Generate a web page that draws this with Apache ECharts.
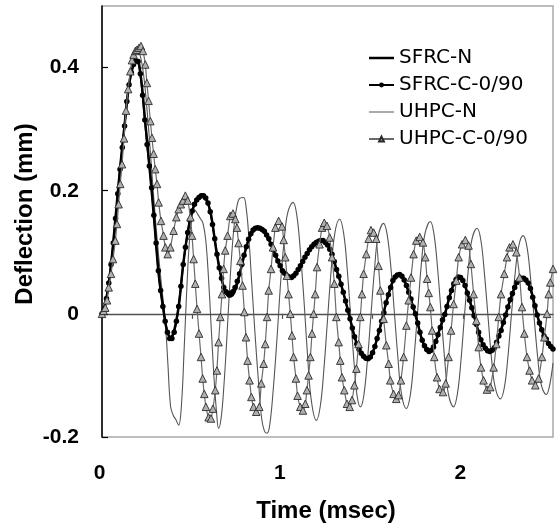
<!DOCTYPE html>
<html><head><meta charset="utf-8">
<script src="https://cdn.jsdelivr.net/npm/echarts@6/dist/echarts.min.js"></script>
<style>html,body{margin:0;padding:0;background:#fff}#c{width:558px;height:527px}</style>
</head><body><div id="c"></div>
<script>
const seriesNames = ['SFRC-N', 'SFRC-C-0/90', 'UHPC-N', 'UHPC-C-0/90'];
const xLabelValues = [0, 1, 2];
const xTickValues = [0.5, 1, 1.5, 2];
const yLabelValues = [-0.2, 0, 0.2, 0.4];
const xTitle = 'Time (msec)';
const yTitle = 'Deflection (mm)';

// [time (msec), deflection (mm)]
const sfrcN = [[0,0],[0.025,0.026],[0.05,0.08],[0.075,0.156],[0.1,0.236],[0.125,0.306],[0.15,0.372],[0.175,0.405],[0.195,0.411],[0.215,0.386],[0.24,0.31],[0.265,0.233],[0.29,0.15],[0.315,0.062],[0.34,0.008],[0.36,-0.027],[0.38,-0.037],[0.4,-0.027],[0.425,0.012],[0.45,0.08],[0.475,0.132],[0.5,0.167],[0.525,0.185],[0.555,0.191],[0.58,0.185],[0.605,0.16],[0.63,0.11],[0.655,0.068],[0.68,0.039],[0.705,0.028],[0.73,0.033],[0.755,0.055],[0.78,0.085],[0.81,0.118],[0.84,0.136],[0.865,0.139],[0.895,0.134],[0.925,0.12],[0.955,0.1],[0.985,0.079],[1.015,0.065],[1.045,0.059],[1.075,0.066],[1.1,0.078],[1.125,0.092],[1.15,0.104],[1.175,0.113],[1.2,0.118],[1.225,0.119],[1.25,0.112],[1.275,0.097],[1.3,0.072],[1.325,0.048],[1.35,0.021],[1.375,-0.008],[1.4,-0.037],[1.425,-0.058],[1.45,-0.069],[1.475,-0.073],[1.5,-0.063],[1.525,-0.04],[1.55,-0.012],[1.575,0.018],[1.6,0.043],[1.625,0.06],[1.65,0.064],[1.675,0.055],[1.7,0.035],[1.725,0.011],[1.75,-0.015],[1.775,-0.043],[1.8,-0.058],[1.8125,-0.061],[1.825,-0.059],[1.85,-0.045],[1.875,-0.022],[1.9,-0.001],[1.925,0.026],[1.95,0.049],[1.975,0.06],[2.0,0.054],[2.025,0.034],[2.05,0.01],[2.075,-0.017],[2.1,-0.042],[2.125,-0.056],[2.15,-0.061],[2.175,-0.055],[2.2,-0.036],[2.225,-0.014],[2.25,0.011],[2.275,0.033],[2.3,0.051],[2.33,0.058],[2.35,0.055],[2.375,0.041],[2.4,0.013],[2.425,-0.015],[2.45,-0.036],[2.475,-0.048],[2.5,-0.057]];

const sfrcC = [[0,0],[0.0125,0.008],[0.025,0.025],[0.0375,0.05],[0.05,0.08],[0.0625,0.115],[0.075,0.155],[0.0875,0.195],[0.1,0.235],[0.1125,0.27],[0.125,0.305],[0.1375,0.345],[0.15,0.372],[0.1625,0.392],[0.175,0.405],[0.1875,0.411],[0.2,0.41],[0.2125,0.39],[0.225,0.355],[0.2375,0.315],[0.25,0.275],[0.2625,0.24],[0.275,0.205],[0.2875,0.16],[0.3,0.115],[0.3125,0.07],[0.325,0.038],[0.3375,0.012],[0.35,-0.012],[0.3625,-0.03],[0.375,-0.04],[0.3875,-0.04],[0.4,-0.03],[0.4125,-0.012],[0.425,0.012],[0.4375,0.045],[0.45,0.08],[0.4625,0.108],[0.475,0.132],[0.4875,0.152],[0.5,0.167],[0.5125,0.178],[0.525,0.185],[0.5375,0.189],[0.55,0.192],[0.5625,0.192],[0.575,0.188],[0.5875,0.18],[0.6,0.166],[0.6125,0.145],[0.625,0.122],[0.6375,0.097],[0.65,0.075],[0.6625,0.058],[0.675,0.043],[0.6875,0.036],[0.7,0.033],[0.7125,0.033],[0.725,0.036],[0.7375,0.043],[0.75,0.053],[0.7625,0.065],[0.775,0.08],[0.7875,0.095],[0.8,0.109],[0.8125,0.121],[0.825,0.13],[0.8375,0.136],[0.85,0.139],[0.8625,0.14],[0.875,0.139],[0.8875,0.137],[0.9,0.134],[0.9125,0.128],[0.925,0.122],[0.9375,0.113],[0.95,0.104],[0.9625,0.095],[0.975,0.086],[0.9875,0.078],[1.0,0.07],[1.0125,0.066],[1.025,0.062],[1.0375,0.06],[1.05,0.059],[1.0625,0.062],[1.075,0.066],[1.0875,0.072],[1.1,0.078],[1.1125,0.085],[1.125,0.092],[1.1375,0.098],[1.15,0.104],[1.1625,0.109],[1.175,0.113],[1.1875,0.116],[1.2,0.118],[1.2125,0.119],[1.225,0.119],[1.2375,0.116],[1.25,0.112],[1.2625,0.105],[1.275,0.097],[1.2875,0.085],[1.3,0.072],[1.3125,0.061],[1.325,0.048],[1.3375,0.035],[1.35,0.021],[1.3625,0.006],[1.375,-0.008],[1.3875,-0.023],[1.4,-0.037],[1.4125,-0.049],[1.425,-0.058],[1.4375,-0.064],[1.45,-0.069],[1.4625,-0.072],[1.475,-0.073],[1.4875,-0.07],[1.5,-0.063],[1.5125,-0.053],[1.525,-0.04],[1.5375,-0.027],[1.55,-0.012],[1.5625,0.002],[1.575,0.018],[1.5875,0.031],[1.6,0.043],[1.6125,0.054],[1.625,0.06],[1.6375,0.063],[1.65,0.064],[1.6625,0.061],[1.675,0.055],[1.6875,0.046],[1.7,0.035],[1.7125,0.024],[1.725,0.011],[1.7375,0.0],[1.75,-0.015],[1.7625,-0.03],[1.775,-0.043],[1.7875,-0.052],[1.8,-0.058],[1.8125,-0.061],[1.825,-0.059],[1.8375,-0.054],[1.85,-0.045],[1.8625,-0.034],[1.875,-0.022],[1.8875,-0.01],[1.9,-0.001],[1.9125,0.012],[1.925,0.026],[1.9375,0.038],[1.95,0.049],[1.9625,0.056],[1.975,0.06],[1.9875,0.059],[2.0,0.054],[2.0125,0.046],[2.025,0.034],[2.0375,0.022],[2.05,0.01],[2.0625,-0.003],[2.075,-0.017],[2.0875,-0.03],[2.1,-0.042],[2.1125,-0.05],[2.125,-0.056],[2.1375,-0.06],[2.15,-0.061],[2.1625,-0.059],[2.175,-0.055],[2.1875,-0.046],[2.2,-0.036],[2.2125,-0.027],[2.225,-0.014],[2.2375,-0.002],[2.25,0.011],[2.2625,0.023],[2.275,0.033],[2.2875,0.043],[2.3,0.051],[2.3125,0.055],[2.325,0.058],[2.3375,0.058],[2.35,0.055],[2.3625,0.05],[2.375,0.041],[2.3875,0.027],[2.4,0.013],[2.4125,-0.002],[2.425,-0.015],[2.4375,-0.026],[2.45,-0.036],[2.4625,-0.041],[2.475,-0.048],[2.4875,-0.053],[2.5,-0.057]];

const uhpcN = [[0,0],[0.025,0.03],[0.05,0.075],[0.075,0.14],[0.1,0.215],[0.125,0.3],[0.15,0.37],[0.175,0.41],[0.2,0.425],[0.225,0.4],[0.25,0.33],[0.275,0.235],[0.3,0.14],[0.325,0.06],[0.35,-0.01],[0.365,-0.08],[0.38,-0.15],[0.395,-0.165],[0.41,-0.172],[0.425,-0.181],[0.44,-0.15],[0.455,-0.06],[0.47,0.04],[0.485,0.12],[0.5,0.16],[0.515,0.168],[0.53,0.162],[0.545,0.155],[0.56,0.147],[0.575,0.12],[0.59,0.06],[0.605,-0.02],[0.62,-0.1],[0.635,-0.16],[0.646,-0.186],[0.66,-0.17],[0.675,-0.12],[0.69,-0.05],[0.705,0.03],[0.72,0.1],[0.735,0.15],[0.75,0.178],[0.765,0.188],[0.785,0.189],[0.8,0.17],[0.815,0.12],[0.83,0.05],[0.85,-0.04],[0.87,-0.12],[0.885,-0.17],[0.9,-0.19],[0.915,-0.194],[0.93,-0.18],[0.95,-0.12],[0.97,-0.04],[0.99,0.05],[1.01,0.12],[1.03,0.165],[1.059,0.181],[1.08,0.16],[1.1,0.1],[1.12,0.02],[1.14,-0.07],[1.16,-0.14],[1.188,-0.173],[1.21,-0.15],[1.23,-0.09],[1.25,-0.01],[1.27,0.07],[1.29,0.13],[1.317,0.154],[1.34,0.13],[1.36,0.07],[1.38,-0.01],[1.4,-0.09],[1.415,-0.135],[1.432,-0.151],[1.45,-0.135],[1.47,-0.08],[1.49,-0.005],[1.51,0.07],[1.53,0.125],[1.561,0.147],[1.58,0.13],[1.6,0.08],[1.62,0.005],[1.64,-0.07],[1.66,-0.13],[1.687,-0.154],[1.71,-0.13],[1.73,-0.07],[1.75,0.005],[1.77,0.08],[1.79,0.13],[1.82,0.15],[1.84,0.13],[1.86,0.075],[1.88,0.0],[1.9,-0.075],[1.92,-0.13],[1.949,-0.151],[1.97,-0.13],[1.99,-0.075],[2.01,0.0],[2.03,0.07],[2.05,0.12],[2.079,0.139],[2.1,0.12],[2.12,0.065],[2.14,-0.005],[2.16,-0.075],[2.18,-0.12],[2.208,-0.138],[2.23,-0.12],[2.25,-0.07],[2.27,0.0],[2.29,0.065],[2.31,0.11],[2.334,0.127],[2.355,0.11],[2.375,0.06],[2.395,-0.005],[2.415,-0.07],[2.435,-0.115],[2.463,-0.131],[2.48,-0.118],[2.5,-0.08]];

const uhpcC = [[0,0],[0.009,0.005],[0.018,0.01],[0.028,0.022],[0.037,0.043],[0.05,0.065],[0.061,0.089],[0.074,0.119],[0.083,0.146],[0.092,0.178],[0.101,0.211],[0.111,0.243],[0.122,0.285],[0.133,0.33],[0.145,0.365],[0.157,0.394],[0.166,0.412],[0.175,0.421],[0.185,0.427],[0.194,0.429],[0.205,0.432],[0.216,0.435],[0.227,0.427],[0.24,0.405],[0.249,0.375],[0.258,0.346],[0.268,0.313],[0.277,0.286],[0.286,0.26],[0.295,0.235],[0.305,0.211],[0.314,0.181],[0.327,0.151],[0.341,0.127],[0.351,0.108],[0.364,0.097],[0.379,0.108],[0.397,0.135],[0.412,0.157],[0.425,0.17],[0.437,0.178],[0.449,0.184],[0.462,0.192],[0.475,0.184],[0.49,0.157],[0.499,0.127],[0.508,0.089],[0.517,0.049],[0.527,0.008],[0.538,-0.032],[0.549,-0.07],[0.558,-0.105],[0.567,-0.13],[0.576,-0.151],[0.591,-0.168],[0.604,-0.17],[0.615,-0.154],[0.628,-0.124],[0.637,-0.092],[0.646,-0.046],[0.656,-0.005],[0.665,0.032],[0.674,0.073],[0.683,0.103],[0.696,0.127],[0.711,0.159],[0.726,0.163],[0.739,0.154],[0.748,0.14],[0.757,0.115],[0.767,0.086],[0.779,0.046],[0.789,0.003],[0.798,-0.038],[0.807,-0.076],[0.818,-0.108],[0.828,-0.135],[0.84,-0.151],[0.855,-0.159],[0.872,-0.151],[0.883,-0.113],[0.896,-0.081],[0.905,-0.049],[0.915,-0.005],[0.924,0.038],[0.937,0.073],[0.948,0.108],[0.961,0.14],[0.979,0.151],[0.998,0.142],[1.007,0.12],[1.016,0.092],[1.025,0.062],[1.034,0.032],[1.044,0.0],[1.053,-0.035],[1.062,-0.07],[1.075,-0.105],[1.084,-0.133],[1.099,-0.151],[1.114,-0.157],[1.127,-0.146],[1.136,-0.124],[1.145,-0.1],[1.155,-0.07],[1.164,-0.032],[1.173,0.0],[1.182,0.032],[1.192,0.076],[1.206,0.113],[1.22,0.14],[1.232,0.148],[1.247,0.143],[1.262,0.124],[1.275,0.092],[1.288,0.049],[1.299,-0.005],[1.312,-0.046],[1.321,-0.076],[1.33,-0.103],[1.343,-0.124],[1.358,-0.146],[1.373,-0.151],[1.386,-0.14],[1.399,-0.116],[1.41,-0.089],[1.422,-0.049],[1.432,-0.005],[1.441,0.032],[1.45,0.065],[1.465,0.097],[1.478,0.122],[1.491,0.136],[1.506,0.132],[1.52,0.122],[1.533,0.078],[1.543,0.038],[1.561,-0.008],[1.576,-0.051],[1.589,-0.081],[1.598,-0.108],[1.616,-0.13],[1.631,-0.138],[1.644,-0.132],[1.657,-0.108],[1.672,-0.07],[1.687,-0.019],[1.7,0.022],[1.713,0.059],[1.727,0.097],[1.742,0.119],[1.761,0.125],[1.779,0.116],[1.792,0.092],[1.802,0.057],[1.811,0.034],[1.82,0.011],[1.83,-0.027],[1.842,-0.07],[1.857,-0.103],[1.871,-0.122],[1.89,-0.127],[1.905,-0.113],[1.921,-0.07],[1.935,-0.027],[1.949,0.016],[1.964,0.054],[1.977,0.092],[1.996,0.113],[2.014,0.12],[2.032,0.111],[2.045,0.081],[2.06,0.032],[2.075,-0.011],[2.088,-0.054],[2.101,-0.087],[2.115,-0.108],[2.134,-0.123],[2.152,-0.119],[2.171,-0.087],[2.186,-0.049],[2.199,-0.005],[2.212,0.032],[2.23,0.065],[2.245,0.092],[2.259,0.108],[2.278,0.113],[2.297,0.1],[2.315,0.059],[2.328,0.011],[2.341,-0.032],[2.356,-0.07],[2.37,-0.092],[2.384,-0.108],[2.402,-0.116],[2.42,-0.105],[2.439,-0.07],[2.452,-0.038],[2.467,0.0],[2.476,0.032],[2.485,0.051],[2.5,0.073]];

const boldFont = 'Arial, "Liberation Sans", sans-serif';
const chart = echarts.init(document.getElementById('c'), null, {renderer: 'canvas'});
chart.setOption({
  animation: false,
  backgroundColor: '#fff',
  grid: {left: 102, top: 6, width: 451, height: 431, show: true, borderColor: '#a8a8a8', borderWidth: 1.5, backgroundColor: 'transparent'},
  xAxis: [
    {type: 'value', position: 'bottom', min: 0, max: 2.5,
     axisLine: {show: false, onZero: false}, axisTick: {show: false}, splitLine: {show: false},
     axisLabel: {customValues: xLabelValues, margin: 26, fontSize: 21, fontWeight: 'bold', fontFamily: boldFont, color: '#000', padding: [0, 5, 0, 0], formatter: v => String(Math.round(v))}},
    {type: 'value', position: 'bottom', min: 0, max: 2.5,
     axisLine: {show: true, onZero: true, lineStyle: {color: '#505050', width: 1.3}},
     axisTick: {show: true, customValues: xTickValues, length: 5, lineStyle: {color: '#505050', width: 1.2}},
     axisLabel: {show: false}, splitLine: {show: false}}
  ],
  yAxis: {type: 'value', position: 'left', min: -0.2, max: 0.5,
    axisLine: {show: true, onZero: false, lineStyle: {color: '#000', width: 1.5}},
    axisTick: {show: true, inside: true, length: 6, customValues: yLabelValues, lineStyle: {color: '#000', width: 1.2}},
    splitLine: {show: false},
    axisLabel: {customValues: yLabelValues, margin: 23, fontSize: 21, fontWeight: 'bold', fontFamily: boldFont, color: '#000',
      formatter: v => String(parseFloat(Number(v).toFixed(1)))}},
  legend: {
    orient: 'vertical', left: 363, top: 43, itemWidth: 25, itemHeight: 6, itemGap: 7,
    textStyle: {fontFamily: '"DejaVu Sans", sans-serif', fontSize: 20, color: '#000', lineHeight: 20},
    data: [
      {name: seriesNames[0], icon: 'path://M0,0H25V2.5H0Z'},
      seriesNames[1],
      {name: seriesNames[2], icon: 'path://M0,0H25V1H0Z'},
      seriesNames[3]
    ]
  },
  graphic: [
    {type: 'text', x: 326, y: 511, style: {text: xTitle, fontSize: 24, fontWeight: 'bold', fontFamily: boldFont, fill: '#000', align: 'center', verticalAlign: 'middle'}},
    {type: 'text', x: 25, y: 214, rotation: Math.PI / 2, style: {text: yTitle, fontSize: 24, fontWeight: 'bold', fontFamily: boldFont, fill: '#000', align: 'center', verticalAlign: 'middle'}}
  ],
  series: [
    {name: seriesNames[2], type: 'line', data: uhpcN, symbol: 'none', smooth: 0.4, z: 2,
     color: '#555', lineStyle: {color: '#555', width: 1.1}},
    {name: seriesNames[0], type: 'line', data: sfrcN, symbol: 'none', smooth: 0.4, z: 3,
     color: '#000', lineStyle: {color: '#000', width: 2.5}},
    {name: seriesNames[1], type: 'line', data: sfrcC, symbol: 'circle', symbolSize: 5.5, z: 4,
     color: '#000', lineStyle: {color: '#000', width: 1.8}, itemStyle: {color: '#000'}},
    {name: seriesNames[3], type: 'line', data: uhpcC, symbol: 'triangle', symbolSize: 7.5, smooth: 0.2, z: 5,
     color: '#6a6a6a', lineStyle: {color: '#6a6a6a', width: 1.2}, itemStyle: {color: '#b0b0b0', borderColor: '#2a2a2a', borderWidth: 0.9}}
  ]
});
</script></body></html>
